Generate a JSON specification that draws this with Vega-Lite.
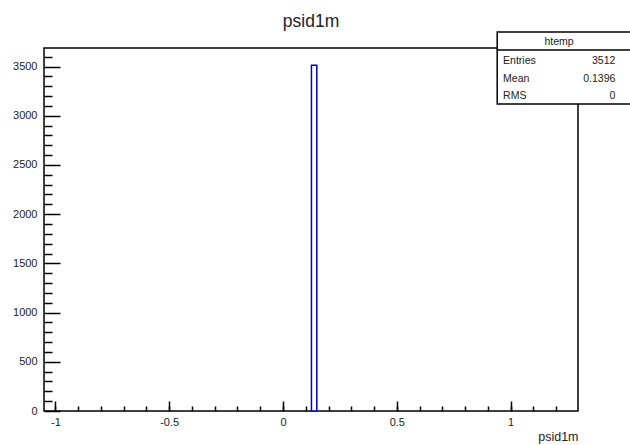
{
  "$schema": "https://vega.github.io/schema/vega-lite/v6.json",
  "width": 534,
  "height": 363,
  "autosize": {"type": "none"},
  "padding": {"left": 44, "top": 48, "right": 52, "bottom": 34},
  "background": "white",
  "config": {
    "view": {"stroke": "black", "strokeWidth": 1.5},
    "font": "Liberation Sans",
    "axis": {
      "domain": false,
      "grid": false,
      "tickColor": "black",
      "tickWidth": 1.5,
      "labelColor": "#222",
      "labelFontSize": 11,
      "labelFont": "Liberation Sans"
    }
  },
  "title": {
    "text": "psid1m",
    "fontSize": 17.5,
    "fontWeight": "normal",
    "anchor": "middle",
    "frame": "group",
    "offset": 1,
    "color": "#222"
  },
  "datasets": {
    "hist": [
      {"bin_start": 0.125, "bin_end": 0.1485, "entries": 3512}
    ],
    "stats": [
      {"name": "htemp", "labels": ["Entries", "Mean", "RMS"], "values": ["3512", "0.1396", "0"]}
    ]
  },
  "layer": [
    {
      "data": {"name": "hist"},
      "mark": {"type": "point", "opacity": 0},
      "encoding": {
        "x": {
          "field": "bin_start",
          "type": "quantitative",
          "scale": {"domain": [-1.05, 1.296], "nice": false, "zero": false},
          "axis": {
            "orient": "bottom",
            "values": [-1, -0.9, -0.8, -0.7, -0.6, -0.5, -0.4, -0.3, -0.2, -0.1, 0, 0.1, 0.2, 0.3, 0.4, 0.5, 0.6, 0.7, 0.8, 0.9, 1, 1.1, 1.2],
            "labels": false,
            "tickSize": -5,
            "title": null
          }
        },
        "y": {
          "field": "entries",
          "type": "quantitative",
          "scale": {"domain": [0, 3688], "nice": false},
          "axis": {
            "orient": "left",
            "values": [100, 200, 300, 400, 600, 700, 800, 900, 1100, 1200, 1300, 1400, 1600, 1700, 1800, 1900, 2100, 2200, 2300, 2400, 2600, 2700, 2800, 2900, 3100, 3200, 3300, 3400, 3600],
            "labels": false,
            "tickSize": -8,
            "title": null
          }
        }
      }
    },
    {
      "data": {"name": "hist"},
      "mark": {"type": "rect", "fill": "white", "stroke": "#0000cc", "strokeWidth": 1.5},
      "encoding": {
        "x": {
          "field": "bin_start",
          "type": "quantitative",
          "scale": {"domain": [-1.05, 1.296], "nice": false, "zero": false},
          "axis": {
            "orient": "bottom",
            "values": [-1, -0.5, 0, 0.5, 1],
            "labelExpr": "'' + datum.value",
            "tickSize": -10,
            "labelPadding": 15,
            "title": "psid1m",
            "titleAnchor": "end",
            "titleFontSize": 12.5,
            "titleFontWeight": "normal",
            "titleColor": "#222",
            "titlePadding": 3
          }
        },
        "x2": {"field": "bin_end"},
        "y": {
          "field": "entries",
          "type": "quantitative",
          "scale": {"domain": [0, 3688], "nice": false},
          "axis": {
            "orient": "left",
            "values": [0, 500, 1000, 1500, 2000, 2500, 3000, 3500],
            "labelExpr": "'' + datum.value",
            "tickSize": -16,
            "labelPadding": 23,
            "title": null
          }
        },
        "y2": {"datum": 0}
      }
    },
    {
      "data": {"name": "stats"},
      "mark": {"type": "rect", "fill": "white", "stroke": "black", "strokeWidth": 1.5},
      "encoding": {
        "x": {"datum": 0.941, "type": "quantitative", "scale": {"domain": [-1.05, 1.296], "nice": false, "zero": false}, "axis": null},
        "x2": {"datum": 1.54},
        "y": {"datum": 3850, "type": "quantitative", "scale": {"domain": [0, 3688], "nice": false}, "axis": null},
        "y2": {"datum": 3119}
      }
    },
    {
      "data": {"name": "stats"},
      "mark": {"type": "rule", "stroke": "black", "strokeWidth": 1.5},
      "encoding": {
        "x": {"datum": 0.941, "type": "quantitative", "scale": {"domain": [-1.05, 1.296], "nice": false, "zero": false}, "axis": null},
        "x2": {"datum": 1.54},
        "y": {"datum": 3668, "type": "quantitative", "scale": {"domain": [0, 3688], "nice": false}, "axis": null}
      }
    },
    {
      "data": {"name": "stats"},
      "mark": {"type": "text", "align": "center", "baseline": "middle", "fontSize": 10.5, "color": "#222"},
      "encoding": {
        "x": {"datum": 1.213, "type": "quantitative", "scale": {"domain": [-1.05, 1.296], "nice": false, "zero": false}, "axis": null},
        "y": {"datum": 3752, "type": "quantitative", "scale": {"domain": [0, 3688], "nice": false}, "axis": null},
        "text": {"field": "name", "type": "nominal"}
      }
    },
    {
      "data": {"name": "stats"},
      "mark": {"type": "text", "align": "left", "baseline": "top", "fontSize": 10.5, "lineHeight": 17.6, "color": "#222"},
      "encoding": {
        "x": {"datum": 0.967, "type": "quantitative", "scale": {"domain": [-1.05, 1.296], "nice": false, "zero": false}, "axis": null},
        "y": {"datum": 3605, "type": "quantitative", "scale": {"domain": [0, 3688], "nice": false}, "axis": null},
        "text": {"field": "labels", "type": "nominal"}
      }
    },
    {
      "data": {"name": "stats"},
      "mark": {"type": "text", "align": "right", "baseline": "top", "fontSize": 10.5, "lineHeight": 17.6, "color": "#222"},
      "encoding": {
        "x": {"datum": 1.46, "type": "quantitative", "scale": {"domain": [-1.05, 1.296], "nice": false, "zero": false}, "axis": null},
        "y": {"datum": 3605, "type": "quantitative", "scale": {"domain": [0, 3688], "nice": false}, "axis": null},
        "text": {"field": "values", "type": "nominal"}
      }
    }
  ],
  "resolve": {"axis": {"x": "independent", "y": "independent"}}
}
